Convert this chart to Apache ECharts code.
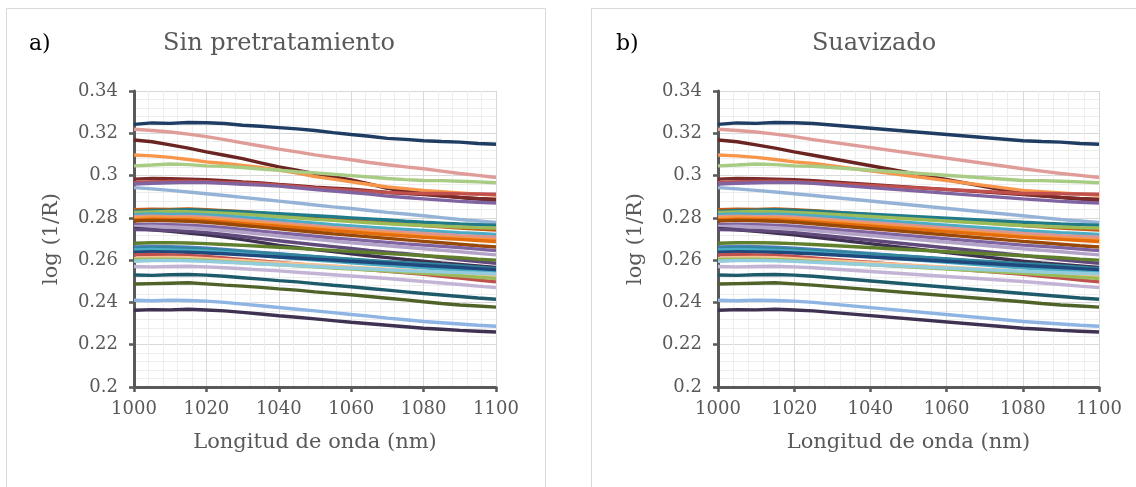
<!DOCTYPE html>
<html>
<head>
<meta charset="utf-8">
<script src="https://cdn.jsdelivr.net/npm/echarts@6/dist/echarts.min.js"></script>
<style>
html,body{margin:0;padding:0;background:#fff;}
#c{width:1136px;height:487px;}
</style>
</head>
<body>
<div id="c"></div>
<script>
// ---- Data ----
const wavelengths = [1000,1005,1010,1015,1020,1025,1030,1035,1040,1045,1050,1055,1060,1065,1070,1075,1080,1085,1090,1095,1100];
const xTicks = [1000,1020,1040,1060,1080,1100];
const yTicks = [0.2,0.22,0.24,0.26,0.28,0.3,0.32,0.34];

const s01 = [.3242,.3249,.3247,.3251,.3250,.3246,.3238,.3233,.3227,.3221,.3213,.3203,.3194,.3186,.3176,.3171,.3165,.3161,.3158,.3152,.3148];
const s02 = [.3219,.3213,.3206,.3196,.3184,.3170,.3155,.3140,.3125,.3112,.3098,.3086,.3075,.3062,.3051,.3041,.3032,.3021,.3010,.3001,.2991];
const s03 = [.3168,.3160,.3145,.3130,.3112,.3096,.3080,.3060,.3041,.3025,.3009,.2995,.2979,.2960,.2940,.2926,.2915,.2905,.2896,.2889,.2883];
const s04 = [.3097,.3093,.3086,.3076,.3065,.3057,.3048,.3038,.3026,.3012,.2995,.2983,.2970,.2958,.2946,.2938,.2930,.2924,.2918,.2912,.2907];
const s05 = [.3046,.3050,.3055,.3052,.3046,.3044,.3038,.3031,.3025,.3018,.3013,.3006,.3000,.2993,.2986,.2981,.2977,.2976,.2973,.2970,.2966];
const s06 = [.2983,.2986,.2985,.2983,.2980,.2976,.2970,.2965,.2958,.2952,.2945,.2940,.2935,.2928,.2920,.2915,.2910,.2903,.2897,.2892,.2888];
const s07 = [.2966,.2970,.2972,.2973,.2971,.2968,.2965,.2960,.2955,.2948,.2940,.2935,.2930,.2925,.2920,.2917,.2915,.2916,.2914,.2913,.2912];
const s08 = [.2960,.2964,.2966,.2968,.2967,.2963,.2959,.2955,.2950,.2942,.2934,.2927,.2920,.2912,.2903,.2896,.2890,.2884,.2878,.2874,.2870];
const s09 = [.2943,.2937,.2930,.2922,.2914,.2906,.2897,.2888,.2879,.2870,.2861,.2852,.2844,.2835,.2826,.2818,.2810,.2801,.2792,.2785,.2778];
const s10 = [.2838,.2841,.2840,.2842,.2838,.2834,.2829,.2823,.2815,.2809,.2802,.2795,.2789,.2782,.2776,.2770,.2764,.2758,.2752,.2747,.2742];
const s11 = [.2830,.2835,.2836,.2838,.2835,.2832,.2828,.2824,.2820,.2815,.2810,.2805,.2800,.2795,.2790,.2784,.2779,.2775,.2771,.2768,.2765];
const s12 = [.2825,.2828,.2830,.2829,.2826,.2822,.2817,.2811,.2805,.2799,.2793,.2788,.2782,.2777,.2772,.2768,.2764,.2760,.2757,.2754,.2752];
const s13 = [.2815,.2818,.2816,.2817,.2814,.2809,.2802,.2796,.2789,.2782,.2775,.2768,.2762,.2756,.2750,.2745,.2740,.2735,.2730,.2726,.2722];
const s14 = [.2805,.2808,.2806,.2807,.2803,.2797,.2790,.2783,.2776,.2769,.2762,.2755,.2749,.2743,.2737,.2731,.2726,.2721,.2716,.2712,.2708];
const s15 = [.2800,.2803,.2801,.2800,.2796,.2790,.2783,.2776,.2768,.2761,.2754,.2747,.2740,.2733,.2727,.2721,.2715,.2710,.2705,.2700,.2695];
const s16 = [.2790,.2794,.2793,.2791,.2787,.2781,.2774,.2767,.2760,.2753,.2746,.2739,.2733,.2726,.2720,.2714,.2708,.2703,.2698,.2693,.2688];
const s17 = [.2785,.2788,.2786,.2784,.2779,.2772,.2764,.2756,.2748,.2740,.2732,.2724,.2717,.2710,.2703,.2696,.2689,.2682,.2675,.2668,.2662];
const s18 = [.2768,.2770,.2768,.2765,.2760,.2753,.2745,.2737,.2729,.2721,.2713,.2705,.2698,.2691,.2684,.2677,.2671,.2665,.2659,.2652,.2645];
const s19 = [.2758,.2760,.2757,.2753,.2747,.2740,.2732,.2723,.2714,.2706,.2698,.2690,.2682,.2675,.2668,.2661,.2654,.2647,.2640,.2632,.2625];
const s20 = [.2750,.2744,.2736,.2728,.2720,.2709,.2697,.2684,.2670,.2660,.2650,.2640,.2630,.2621,.2612,.2603,.2595,.2587,.2580,.2573,.2566];
const s21 = [.2745,.2743,.2740,.2736,.2730,.2721,.2712,.2702,.2692,.2682,.2673,.2664,.2655,.2646,.2638,.2630,.2622,.2612,.2602,.2593,.2585];
const s22 = [.2680,.2682,.2683,.2681,.2678,.2674,.2670,.2666,.2661,.2656,.2651,.2646,.2641,.2636,.2631,.2626,.2621,.2616,.2611,.2605,.2600];
const s23 = [.2662,.2665,.2664,.2661,.2657,.2651,.2644,.2637,.2630,.2623,.2616,.2609,.2602,.2596,.2590,.2584,.2578,.2571,.2564,.2556,.2548];
const s24 = [.2655,.2658,.2657,.2655,.2651,.2646,.2640,.2634,.2628,.2622,.2616,.2610,.2604,.2598,.2593,.2588,.2583,.2578,.2573,.2567,.2560];
const s25 = [.2648,.2650,.2648,.2646,.2642,.2636,.2629,.2622,.2615,.2608,.2601,.2594,.2588,.2582,.2576,.2570,.2564,.2558,.2552,.2546,.2540];
const s26 = [.2638,.2640,.2639,.2637,.2634,.2630,.2625,.2620,.2615,.2610,.2605,.2600,.2595,.2590,.2585,.2580,.2575,.2570,.2565,.2560,.2555];
const s27 = [.2625,.2627,.2625,.2622,.2617,.2610,.2603,.2596,.2589,.2582,.2575,.2568,.2561,.2554,.2547,.2540,.2533,.2524,.2515,.2506,.2497];
const s28 = [.2608,.2612,.2613,.2611,.2607,.2602,.2597,.2592,.2587,.2582,.2577,.2572,.2567,.2562,.2557,.2552,.2547,.2541,.2535,.2528,.2522];
const s29 = [.2603,.2605,.2604,.2602,.2598,.2593,.2588,.2583,.2578,.2573,.2568,.2563,.2558,.2553,.2548,.2543,.2538,.2532,.2526,.2519,.2513];
const s30 = [.2595,.2598,.2599,.2597,.2594,.2590,.2586,.2582,.2578,.2574,.2570,.2566,.2562,.2558,.2554,.2550,.2547,.2544,.2541,.2538,.2535];
const s31 = [.2570,.2568,.2570,.2571,.2568,.2564,.2559,.2554,.2549,.2543,.2537,.2531,.2525,.2519,.2513,.2506,.2499,.2492,.2485,.2477,.2470];
const s32 = [.2530,.2528,.2531,.2532,.2529,.2524,.2517,.2510,.2503,.2497,.2489,.2481,.2474,.2466,.2458,.2450,.2442,.2435,.2428,.2421,.2415];
const s33 = [.2487,.2489,.2491,.2493,.2488,.2482,.2477,.2471,.2464,.2458,.2450,.2443,.2436,.2428,.2420,.2412,.2403,.2395,.2388,.2383,.2378];
const s34 = [.2410,.2408,.2411,.2409,.2406,.2400,.2392,.2384,.2376,.2368,.2360,.2352,.2343,.2335,.2326,.2318,.2310,.2304,.2298,.2292,.2287];
const s35 = [.2363,.2366,.2365,.2368,.2364,.2360,.2353,.2345,.2337,.2330,.2322,.2314,.2306,.2299,.2292,.2285,.2278,.2273,.2268,.2264,.2260];

const spectra = [s01,s02,s03,s04,s05,s06,s07,s08,s09,s10,s11,s12,s13,s14,s15,s16,s17,s18,s19,s20,s21,s22,s23,s24,s25,s26,s27,s28,s29,s30,s31,s32,s33,s34,s35];
const colors = ['#1f3c63','#e09c98','#6a2422','#f7964a','#a8cc84','#7b2c2a','#c0504d','#8064a2','#95b3d7',
  '#c55a11','#1f7b8a','#9bbb59','#4bacc6','#d99694','#f79646','#e46c0a','#984807','#8064a2','#b3a2c7','#3f3151','#604a7b',
  '#5f7f2c','#4f81bd','#31859c','#4bacc6','#1f497d','#c0504d','#fac090','#9bbb59','#93cddd','#c3b4d6','#1d5b6a','#4f6228','#8db4e2','#3f3151'];
// Smoothed panel: noisy ends kept, middle section drawn straight between these readings
const smoothedIdx = [0,1,2,3,4,5,16,17,18,19,20];

// ---- Build options ----
const font = 'DejaVu Serif';
const grey = '#595959';

function axes(gridIndex) {
  const x = {
    type:'value', gridIndex, min:1000, max:1100, interval:20,
    axisLine:{show:true, onZero:false, lineStyle:{color:grey, width:3}},
    axisTick:{show:true, inside:false, length:5, lineStyle:{color:grey, width:2.5}},
    axisLabel:{color:grey, fontFamily:font, fontSize:18, margin:13, formatter: v => String(v)},
    splitLine:{show:true, lineStyle:{color:'#d9d9d9', width:1}},
    minorTick:{show:false, splitNumber:5},
    minorSplitLine:{show:true, lineStyle:{color:'#eeeeee', width:1}},
    name:'Longitud de onda (nm)', nameLocation:'middle', nameGap:45,
    nameTextStyle:{color:grey, fontFamily:font, fontSize:21}
  };
  const y = {
    type:'value', gridIndex, min:0.2, max:0.34, interval:0.02,
    axisLine:{show:true, onZero:false, lineStyle:{color:grey, width:3}},
    axisTick:{show:true, inside:false, length:5, lineStyle:{color:grey, width:2.5}},
    axisLabel:{color:grey, fontFamily:font, fontSize:18, margin:16},
    splitLine:{show:true, lineStyle:{color:'#d9d9d9', width:1}},
    minorTick:{show:false, splitNumber:5},
    minorSplitLine:{show:true, lineStyle:{color:'#eeeeee', width:1}},
    name:'log (1/R)', nameLocation:'middle', nameGap:72, nameRotate:90,
    nameTextStyle:{color:grey, fontFamily:font, fontSize:21}
  };
  return {x, y};
}
const a0 = axes(0), a1 = axes(1);

const series = [];
spectra.forEach((vals, i) => {
  series.push({
    type:'line', xAxisIndex:0, yAxisIndex:0, showSymbol:false, silent:true,
    data: wavelengths.map((w, k) => [w, vals[k]]),
    lineStyle:{color:colors[i], width:3.4}, itemStyle:{color:colors[i]}
  });
  series.push({
    type:'line', xAxisIndex:1, yAxisIndex:1, showSymbol:false, silent:true,
    data: smoothedIdx.map(k => [wavelengths[k], vals[k]]),
    lineStyle:{color:colors[i], width:3.4}, itemStyle:{color:colors[i]}
  });
});

const chart = echarts.init(document.getElementById('c'), null, {renderer:'canvas'});
chart.setOption({
  animation:false,
  backgroundColor:'#ffffff',
  grid:[
    {left:134, top:91, width:362, height:296, containLabel:false},
    {left:718, top:91, width:381, height:296, containLabel:false}
  ],
  xAxis:[a0.x, a1.x],
  yAxis:[a0.y, a1.y],
  series,
  graphic:[
    {type:'rect', shape:{x:6.5, y:8.5, width:539, height:500}, style:{fill:null, stroke:'#d9d9d9', lineWidth:1}, silent:true, z:-10},
    {type:'rect', shape:{x:591.5, y:8.5, width:560, height:500}, style:{fill:null, stroke:'#d9d9d9', lineWidth:1}, silent:true, z:-10},
    {type:'text', x:29, y:44, style:{text:'a)', fill:'#000', font:'22px "DejaVu Serif"', textVerticalAlign:'middle'}},
    {type:'text', x:279, y:44, style:{text:'Sin pretratamiento', fill:grey, font:'24px "DejaVu Serif"', textAlign:'center', textVerticalAlign:'middle'}},
    {type:'text', x:616, y:44, style:{text:'b)', fill:'#000', font:'22px "DejaVu Serif"', textVerticalAlign:'middle'}},
    {type:'text', x:874, y:44, style:{text:'Suavizado', fill:grey, font:'24px "DejaVu Serif"', textAlign:'center', textVerticalAlign:'middle'}}
  ]
});
</script>
</body>
</html>
